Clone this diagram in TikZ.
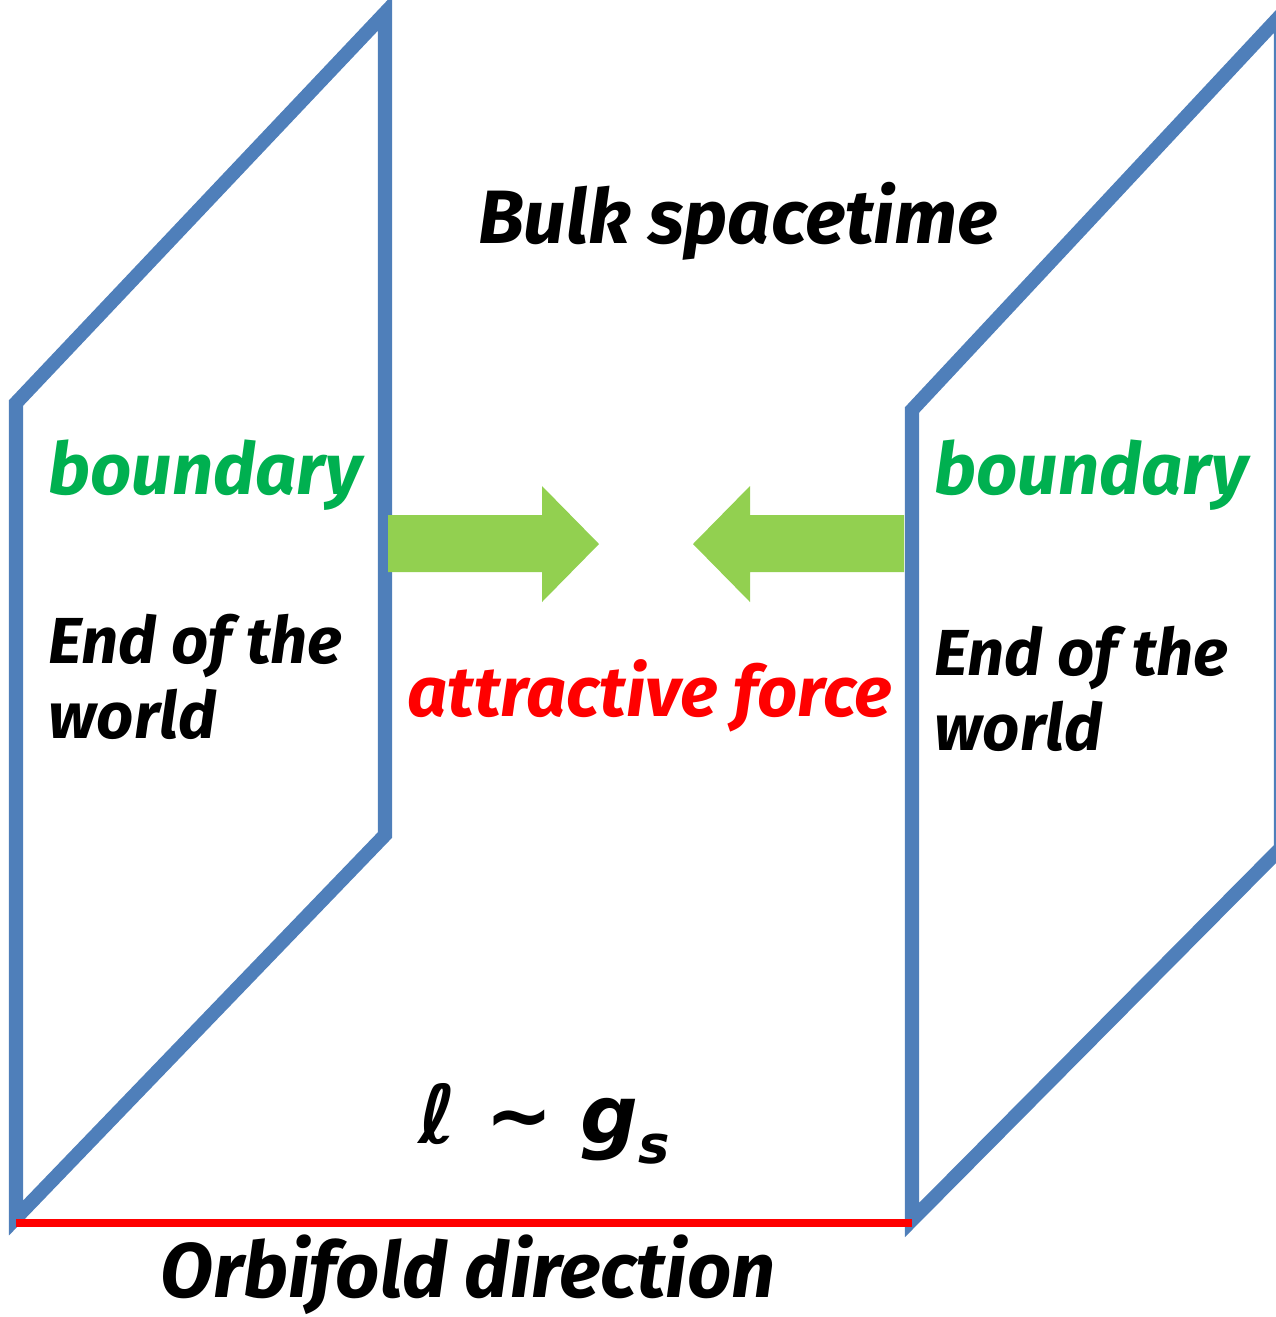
\documentclass[tikz,border=0pt]{standalone}
\usepackage{fontspec}
\setmainfont{Fira Sans}
\newfontfamily\symfont{DejaVu Sans}
\usepackage{amsmath,amssymb}
\usepackage{xcolor}
\usepackage{tikz}

\definecolor{wallblue}{HTML}{4F7FBA}
\definecolor{forcegreen}{HTML}{92D050}
\definecolor{labelgreen}{HTML}{00B050}

\begin{document}
\begin{tikzpicture}[
    x=0.01cm, y=-0.01cm,
    wall/.style={
        draw=wallblue,
        line width=4pt,
        line join=miter
    },
    push/.style={fill=forcegreen, draw=none},
    caption/.style={font=\bfseries\itshape, inner sep=0pt, anchor=base west},
    walltext/.style={caption, align=left, font=\fontsize{18.5}{21.2}\bfseries\itshape}
]

\clip (0,0) rectangle (1276,1317);

\coordinate (L1) at (16,403);
\coordinate (L2) at (385,13);
\coordinate (L3) at (385,835);
\coordinate (L4) at (16,1218);
\coordinate (R1) at (912,410);
\coordinate (R2) at (1281,15);
\coordinate (R3) at (1281,848);
\coordinate (R4) at (912,1220);

\draw[wall] (L1) -- (L2) -- (L3) -- (L4) -- cycle;
\draw[wall] (R1) -- (R2) -- (R3) -- (R4) -- cycle;

\coordinate (orbA) at (16,1223);
\coordinate (orbB) at (912,1223);
\draw[red, line width=2.4pt] (orbA) -- (orbB);

\fill[push] (388,515) -- (542,515) -- (542,486) -- (599,544)
    -- (542,602) -- (542,572) -- (388,572) -- cycle;
\fill[push] (904,515) -- (750,515) -- (750,486) -- (693,544)
    -- (750,602) -- (750,572) -- (904,572) -- cycle;

\node[caption, anchor=base, font=\fontsize{21.5}{26}\bfseries\itshape] (bulk) at (738,243) {Bulk spacetime};

\node[caption, text=labelgreen, font=\fontsize{20.5}{24}\bfseries\itshape] (bndL) at (48,494) {boundary};
\node[caption, text=labelgreen, font=\fontsize{20.5}{24}\bfseries\itshape] (bndR) at (934,494) {boundary};

\node[walltext] (endL) at (48,738) {End of the\\world};
\node[walltext] (endR) at (934,750) {End of the\\world};

\node[caption, anchor=base, text=red, font=\fontsize{20}{22}\bfseries\itshape] (force) at (650,716) {attractive force};

\node[caption, font=\fontsize{23}{26}\symfont\bfseries\itshape] (len) at (418,1143) {ℓ ∼ g\raisebox{-0.25em}{\fontsize{15}{16}\selectfont s}};

\node[caption, anchor=base, font=\fontsize{22}{26}\bfseries\itshape] (orb) at (468,1297) {Orbifold direction};

\end{tikzpicture}
\end{document}
